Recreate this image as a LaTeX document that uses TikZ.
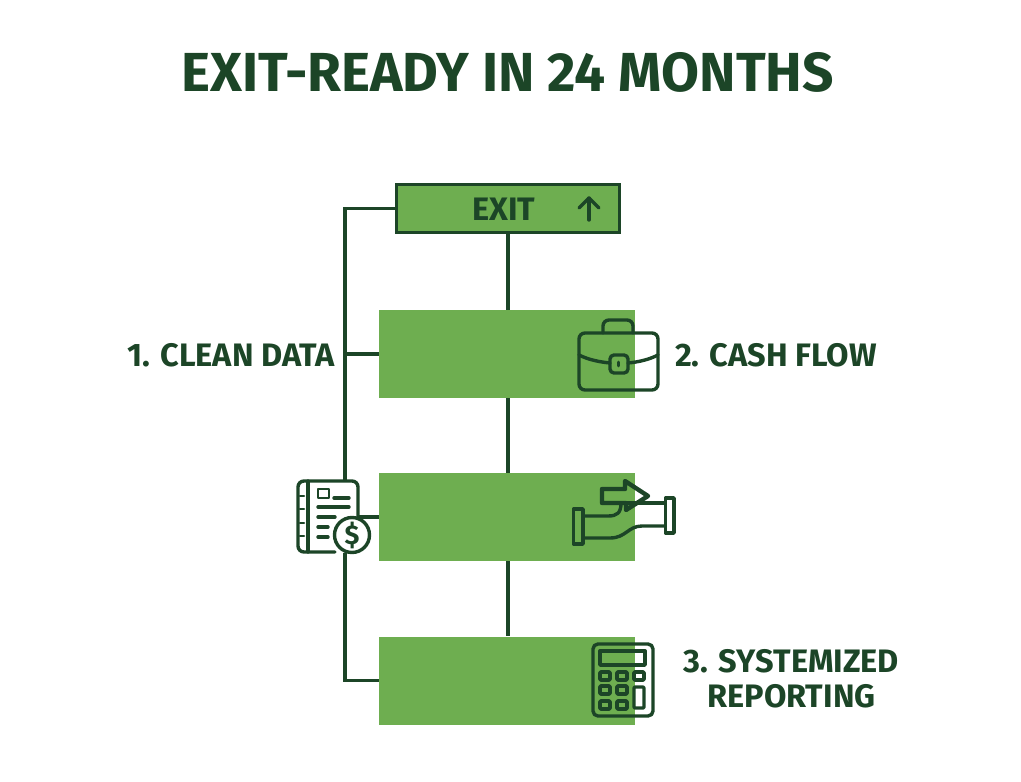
\documentclass[tikz,border=0pt]{standalone}
\usepackage{fontspec}
\setmainfont{Fira Sans}
\definecolor{leaf}{HTML}{6EAE50}
\definecolor{pine}{HTML}{1C4527}
\tikzset{
  stepbox/.style={fill=leaf, minimum width=256pt, minimum height=88pt, inner sep=0pt},
  link/.style={draw=pine, line width=3.4pt},
  icon/.style={draw=pine, line width=3.4pt, line join=round, line cap=round},
  label/.style={text=pine, font=\fontsize{32.5}{35}\selectfont\bfseries, inner sep=0pt, align=center}
}
\begin{document}
\begin{tikzpicture}[>=stealth, x=1pt, y=-1pt]
    \useasboundingbox (0,0) rectangle (1021,782);
    % Title
    \node[text=pine, font=\fontsize{55}{60}\selectfont\bfseries, inner sep=0pt] (title) at (507.5,72) {EXIT-READY IN 24 MONTHS};

    % Sign and the three green boxes
    \node[fill=leaf, draw=pine, line width=3pt, minimum width=223pt, minimum height=48pt, inner sep=0pt] (exit) at (508,208.5) {};
    \node[stepbox] (boxone) at (507,354) {};
    \node[stepbox] (boxtwo) at (507,517) {};
    \node[stepbox] (boxthree) at (507,680.5) {};
    \node[label] (exittext) at (504,209) {EXIT};
    \coordinate (arrowfoot) at (589,220);
    \coordinate (arrowtip) at (589,198);

    % Centre line
    \draw[link] (exit.south) -- (exit.south |- boxone.north);
    \draw[link] (exit.south |- boxone.south) -- (exit.south |- boxtwo.north);
    \draw[link] (exit.south |- boxtwo.south) -- (exit.south |- boxthree.north);

    % Left line
    \coordinate (spinetop) at (345,208.5);
    \coordinate (spineone) at (345,354);
    \coordinate (spinetwo) at (345,517);
    \coordinate (spinethree) at (345,680.5);
    \draw[link] (exit.west) -- (spinetop) -- (spinethree) -- (boxthree.west);
    \draw[link] (spineone) -- (boxone.west);
    \draw[link] (spinetwo) -- (boxtwo.west);

    % Exit arrow
    \draw[icon] (arrowfoot) -- (arrowtip);
    \draw[icon] (579,208) -- (arrowtip) -- (599,208);

    % Document with coin
    \fill[white] (298,480) rectangle (358,553);
    \draw[icon, rounded corners=6pt] (358,525) -- (358,481) -- (298,481) -- (298,552) -- (335,552);
    \draw[icon] (308,481) -- (308,552);
    \foreach \yy in {496,509,523,536}
        \draw[icon, line width=2.6pt] (300,\yy) -- (304,\yy);
    \draw[icon, line width=2.8pt] (318,489) rectangle (329,498);
    \draw[icon] (334,498) -- (349,498);
    \draw[icon] (318,507) -- (349,507);
    \draw[icon] (318,517) -- (335,517);
    \draw[icon] (318,527) -- (328,527);
    \draw[icon] (318,537) -- (328,537);
    \node[circle, fill=white, draw=pine, line width=3.4pt, minimum size=35pt, inner sep=0pt, text=pine, font=\fontsize{27}{27}\selectfont\bfseries] (coin) at (352,535) {\$};

    % Briefcase
    \draw[icon, rounded corners=6pt] (603,333) -- (603,320) -- (633,320) -- (633,333);
    \draw[icon, rounded corners=6pt] (579,333) rectangle (658,390);
    \draw[icon] (579,355) .. controls (589,360) and (600,362) .. (610,363);
    \draw[icon] (628,363) .. controls (638,362) and (648,360) .. (658,355);
    \draw[icon, rounded corners=4pt] (610,355) rectangle (628,373);
    \draw[icon, line width=2.6pt] (618.5,362) -- (618.5,366);

    % Pipe with arrow
    \draw[icon, line cap=butt, line width=3.8pt] (573.5,509) rectangle (583,544);
    \draw[icon, line cap=butt, line width=3.8pt] (665.5,498) rectangle (674,533);
    \draw[icon] (583,516) -- (608,516) .. controls (617,516) and (621,513) .. (621,503);
    \draw[icon] (583,538) -- (610,538) .. controls (626,538) and (628,526) .. (642,526) -- (665,526);
    \draw[icon] (627,503) -- (665,503);
    \draw[icon, line width=4.4pt] (602,489) -- (625,489) -- (625,481) -- (648,496) -- (626,510) -- (626,503) -- (602,503) -- cycle;

    % Calculator
    \draw[icon, rounded corners=5pt] (593,644) rectangle (653,716);
    \draw[icon] (600,651) rectangle (645,665);
    \foreach \xx in {600,617,634} {
        \draw[icon, line width=3.8pt, rounded corners=1pt] (\xx,672) rectangle ++(10,8);
    }
    \foreach \xx in {600,617} {
        \draw[icon, line width=3.8pt, rounded corners=1pt] (\xx,686) rectangle ++(10,8);
        \draw[icon, line width=3.8pt, rounded corners=1pt] (\xx,701) rectangle ++(10,8);
    }
    \draw[icon, rounded corners=1pt] (634,687) rectangle (644,708);

    % Labels
    \node[label] (clean) at (231,355) {1. CLEAN DATA};
    \node[label] (cash) at (776,355) {2. CASH FLOW};
    \node[label] (report) at (791.5,679) {3. SYSTEMIZED\\REPORTING};
\end{tikzpicture}
\end{document}
